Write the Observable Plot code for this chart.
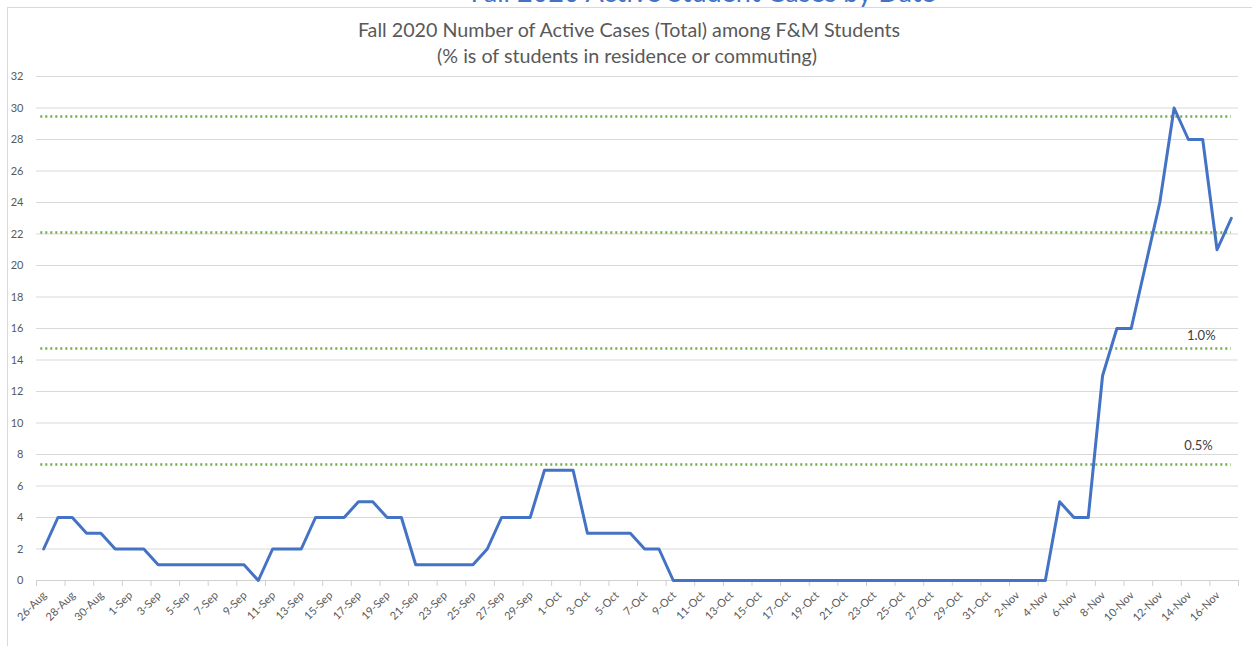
<!DOCTYPE html>
<html>
<head>
<meta charset="utf-8">
<script src="https://cdn.jsdelivr.net/npm/d3@7"></script>
<script src="https://cdn.jsdelivr.net/npm/@observablehq/plot@0.6"></script>
<style>
  html, body { margin: 0; padding: 0; background: #fff; }
  #wrap { position: relative; width: 1252px; height: 646px; overflow: hidden; background: #fff; font-family: Lato, "Open Sans", sans-serif; }
  #frame { position: absolute; left: 7px; top: 7px; width: 1400px; height: 800px; border-left: 1px solid #d9d9d9; border-top: 1px solid #d9d9d9; }
  #bigclip { position: absolute; left: 0; top: 0; width: 1252px; height: 7px; overflow: hidden; }
  #bigtitle { position: absolute; left: 0; width: 1406px; top: -23px; text-align: center; color: #4472C4; font-size: 27px; line-height: 30px; white-space: nowrap; }
  #title { position: absolute; left: 0; width: 1258px; top: 18px; text-align: center; color: #595959; font-size: 19.7px; line-height: 24px; white-space: nowrap; }
  #subtitle { position: absolute; left: 0; width: 1254px; top: 44px; text-align: center; color: #595959; font-size: 19.7px; line-height: 24px; white-space: nowrap; }
  #chart { position: absolute; left: 0; top: 0; }
</style>
</head>
<body>
<div id="wrap">
  <div id="frame"></div>
  <div id="bigclip"><div id="bigtitle">Fall 2020 Active Student Cases by Date</div></div>
  <div id="chart"></div>
  <div id="title">Fall 2020 Number of Active Cases (Total) among F&amp;M Students</div>
  <div id="subtitle">(% is of students in residence or commuting)</div>
</div>
<script>
// Categories (one per day)
const dates = [
  "26-Aug","27-Aug","28-Aug","29-Aug","30-Aug","31-Aug",
  "1-Sep","2-Sep","3-Sep","4-Sep","5-Sep","6-Sep","7-Sep","8-Sep","9-Sep","10-Sep",
  "11-Sep","12-Sep","13-Sep","14-Sep","15-Sep","16-Sep","17-Sep","18-Sep","19-Sep","20-Sep",
  "21-Sep","22-Sep","23-Sep","24-Sep","25-Sep","26-Sep","27-Sep","28-Sep","29-Sep","30-Sep",
  "1-Oct","2-Oct","3-Oct","4-Oct","5-Oct","6-Oct","7-Oct","8-Oct","9-Oct","10-Oct",
  "11-Oct","12-Oct","13-Oct","14-Oct","15-Oct","16-Oct","17-Oct","18-Oct","19-Oct","20-Oct",
  "21-Oct","22-Oct","23-Oct","24-Oct","25-Oct","26-Oct","27-Oct","28-Oct","29-Oct","30-Oct","31-Oct",
  "1-Nov","2-Nov","3-Nov","4-Nov","5-Nov","6-Nov","7-Nov","8-Nov","9-Nov","10-Nov",
  "11-Nov","12-Nov","13-Nov","14-Nov","15-Nov","16-Nov","17-Nov"
];
// Active cases per day
const cases = [
  2,4,4,3,3,2,
  2,2,1,1,1,1,1,1,1,0,
  2,2,2,4,4,4,5,5,4,4,
  1,1,1,1,1,2,4,4,4,7,
  7,7,3,3,3,3,2,2,0,0,
  0,0,0,0,0,0,0,0,0,0,
  0,0,0,0,0,0,0,0,0,0,0,
  0,0,0,0,5,4,4,13,16,16,
  20,24,30,28,28,21,23
];
// Threshold reference lines (0.5%, 1.0%, 1.5%, 2.0% of students)
const thresholds = [7.365, 14.73, 22.095, 29.46];
const thresholdLabels = ["0.5%", "1.0%"];
const yTicks = d3.range(0, 33, 2);

const rows = dates.map((d, i) => ({i, date: d, cases: cases[i]}));
const labelRows = rows.filter(d => d.i % 2 === 0);
const boundaries = d3.range(-0.5, dates.length, 2).concat([dates.length - 0.5]);

const chart = Plot.plot({
  width: 1252,
  height: 646,
  marginLeft: 36,
  marginRight: 14,
  marginTop: 76,
  marginBottom: 66,
  style: {background: "transparent", fontFamily: "Lato, 'Open Sans', sans-serif"},
  x: {type: "linear", domain: [-0.5, dates.length - 0.5], axis: null},
  y: {domain: [0, 32], axis: null},
  marks: [
    Plot.gridY(yTicks, {stroke: "#d9d9d9", strokeOpacity: 1, strokeWidth: 1}),
    Plot.axisY(yTicks, {tickSize: 0, tickPadding: 13, fontSize: 11, color: "#595959", label: null}),
    Plot.ruleY([0], {stroke: "#d0d0d0", strokeWidth: 1}),
    Plot.axisX(boundaries, {tickSize: 6, tickFormat: () => "", stroke: "#d0d0d0", label: null}),
    Plot.text(labelRows, {x: "i", y: 0, text: "date", rotate: -45, textAnchor: "end", dx: 1, dy: 13, fontSize: 11, fill: "#595959"}),
    Plot.ruleY(thresholds, {x1: -0.2, x2: 83, stroke: "#70AD47", strokeWidth: 2.5, strokeDasharray: "2,3"}),
    Plot.text([thresholdLabels[0]], {x: 80.7, y: thresholds[0], text: d => d, dy: -19, fontSize: 13, fill: "#404040"}),
    Plot.text([thresholdLabels[1]], {x: 80.9, y: thresholds[1], text: d => d, dy: -13, fontSize: 13, fill: "#404040"}),
    Plot.line(rows, {x: "i", y: "cases", stroke: "#4472C4", strokeWidth: 3, strokeLinejoin: "round"})
  ]
});
document.getElementById("chart").appendChild(chart);
</script>
</body>
</html>
